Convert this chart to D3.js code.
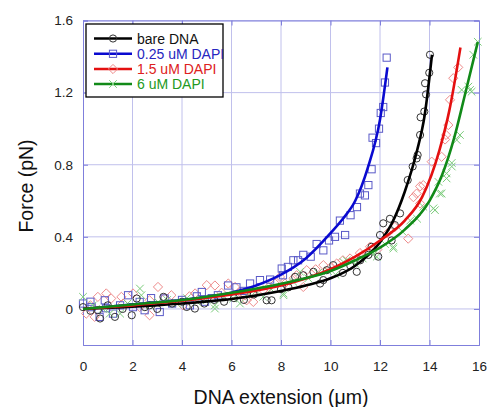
<!DOCTYPE html>
<html><head><meta charset="utf-8">
<script src="https://cdn.jsdelivr.net/npm/d3@7"></script>
<style>body{margin:0;background:#fff}svg{display:block}</style>
</head><body>
<svg id="c" width="488" height="407"></svg>
<script>
const xTicks=[0,2,4,6,8,10,12,14,16];
const yTicks=[0,0.4,0.8,1.2,1.6];
const seriesNames=["bare DNA","0.25 uM DAPI","1.5 uM DAPI","6 uM DAPI"];

const bareCurve=[[0,0],[2,0.012],[4,0.03],[6,0.055],[8,0.1],[9,0.13],[10,0.17],[11,0.24],[12,0.37],[12.5,0.48],[13,0.65],[13.5,0.88],[13.8,1.07],[14.1,1.41]];
const blueCurve=[[0,0],[2,0.025],[4,0.05],[6,0.09],[7,0.13],[8,0.19],[9,0.28],[10,0.42],[10.5,0.5],[11,0.6],[11.5,0.78],[12,1.05],[12.3,1.34]];
const redCurve=[[0,0],[2,0.02],[4,0.045],[6,0.08],[8,0.13],[10,0.22],[11,0.29],[12,0.38],[13,0.49],[13.7,0.62],[14.4,0.88],[14.8,1.1],[15.25,1.45]];
const greenCurve=[[0,0],[2,0.025],[4,0.05],[6,0.09],[8,0.14],[10,0.21],[11,0.27],[12,0.34],[13,0.44],[14,0.6],[14.5,0.74],[15,0.95],[15.4,1.17],[15.95,1.48]];

const bareData=[[0,0.01],[0.3,-0.01],[0.6,-0.007],[0.69,-0.053],[1.0,0.02],[1.29,-0.044],[1.6,0.0],[1.97,-0.035],[2.17,0.058],[2.5,0.01],[2.69,0.02],[3.0,0.0],[3.25,0.067],[3.6,0.03],[4.0,0.04],[4.19,0.011],[4.52,0.002],[4.9,0.03],[5.3,0.05],[5.7,0.04],[6.1,0.06],[6.5,0.05],[6.9,0.08],[7.42,0.048],[7.62,0.048],[8.0,0.11],[8.3,0.12],[8.57,0.178],[8.9,0.187],[9.31,0.206],[9.58,0.141],[9.71,0.16],[9.85,0.215],[10.11,0.243],[10.5,0.2],[10.8,0.24],[11.06,0.206],[11.2,0.27],[11.53,0.30],[11.66,0.345],[11.93,0.29],[12.0,0.41],[12.13,0.475],[12.4,0.50],[12.47,0.38],[12.6,0.465],[12.81,0.53],[13.12,0.715],[13.32,0.79],[13.48,0.835],[13.52,0.854],[13.62,0.965],[13.64,1.063],[13.79,1.095],[13.82,1.252],[13.86,1.19],[13.99,1.31],[14.02,1.41]];
const blueData=[[0,0.03],[0.3,0.04],[0.35,0.01],[0.67,-0.044],[0.88,0.048],[0.93,0.004],[1.21,-0.026],[1.5,0.02],[1.82,0.076],[2.02,0.01],[2.29,0.039],[2.49,-0.007],[2.75,0.06],[3.1,-0.017],[3.3,0.058],[3.6,0.03],[4.0,0.05],[4.32,0.02],[4.6,0.07],[4.8,0.094],[4.93,0.04],[5.2,0.06],[5.45,0.076],[5.86,0.13],[6.2,0.12],[6.5,0.1],[6.75,0.141],[7.15,0.16],[7.56,0.163],[8.03,0.224],[8.08,0.187],[8.28,0.233],[8.5,0.27],[8.69,0.27],[8.9,0.30],[9.2,0.29],[9.44,0.36],[9.71,0.325],[9.94,0.38],[10.18,0.40],[10.38,0.49],[10.59,0.41],[10.81,0.52],[11.07,0.565],[11.19,0.64],[11.39,0.63],[11.53,0.687],[11.66,0.775],[11.7,0.95],[11.84,0.92],[11.96,1.0],[12.03,1.087],[12.13,1.12],[12.2,1.256],[12.27,1.394]];
const redData=[[0.13,-0.026],[0.3,0.02],[0.47,-0.044],[0.6,0.067],[0.94,0.086],[1.14,0.058],[1.55,0.067],[1.62,0.03],[2.02,0.086],[2.29,0.011],[2.69,-0.035],[2.69,0.048],[3.03,0.122],[3.3,0.06],[3.57,0.076],[4.04,0.02],[4.3,0.07],[4.53,0.086],[5.0,0.132],[5.33,0.13],[5.6,0.09],[5.87,0.141],[6.14,0.122],[6.34,0.094],[6.55,0.076],[6.61,0.048],[6.82,0.086],[6.88,0.039],[7.28,0.104],[7.5,0.12],[7.76,0.141],[7.96,0.178],[8.16,0.141],[8.5,0.169],[8.63,0.187],[8.9,0.122],[9.04,0.215],[9.4,0.22],[9.71,0.243],[10.0,0.23],[10.25,0.252],[10.5,0.27],[10.79,0.28],[11.19,0.31],[11.6,0.345],[11.9,0.33],[12.3,0.42],[12.6,0.455],[13.14,0.39],[13.35,0.62],[13.48,0.64],[13.62,0.585],[13.62,0.68],[13.75,0.687],[14.09,0.817],[14.49,0.844],[14.63,0.94],[14.67,0.965],[14.76,1.02],[14.83,1.16],[14.96,1.28],[15.16,1.34]];
const greenData=[[0,0.067],[0.4,0.02],[0.8,0.0],[1.08,-0.026],[1.5,-0.026],[1.8,0.03],[2.3,0.113],[2.36,0.076],[2.7,0.02],[3.03,0.039],[3.4,0.05],[3.8,0.03],[4.2,0.06],[4.6,0.04],[5.0,0.05],[5.33,0.002],[5.33,0.02],[5.7,0.07],[6.07,0.058],[6.34,0.03],[6.7,0.09],[7.0,0.1],[7.28,0.067],[7.6,0.11],[8.1,0.076],[8.1,0.086],[8.5,0.15],[8.77,0.206],[9.1,0.17],[9.5,0.2],[9.9,0.21],[10.2,0.19],[10.52,0.26],[10.65,0.27],[11.0,0.25],[11.3,0.28],[11.73,0.30],[11.87,0.29],[12.2,0.36],[12.54,0.335],[12.54,0.345],[12.9,0.43],[13.22,0.49],[13.5,0.5],[13.75,0.567],[14.16,0.558],[14.22,0.548],[14.36,0.705],[14.42,0.64],[14.49,0.64],[14.69,0.724],[14.69,0.752],[14.9,0.79],[14.9,0.81],[15.1,0.937],[15.23,0.965],[15.3,1.215],[15.57,1.233],[15.64,1.215],[15.7,1.205],[15.77,1.41],[15.95,1.482]];

const svg=d3.select("#c");
const L=83,R=479,T=20.5,B=345;
const x=d3.scaleLinear().domain([0,16]).range([L,R]);
const y=d3.scaleLinear().domain([-0.2,1.6]).range([B,T]);
const font="Liberation Sans, Arial, sans-serif";

// grid
const g=svg.append("g");
g.selectAll(".gx").data(xTicks.slice(1,-1)).enter().append("line")
 .attr("x1",d=>x(d)).attr("x2",d=>x(d)).attr("y1",T).attr("y2",B)
 .attr("stroke","#c0c0ec").attr("stroke-width",1);
g.selectAll(".gy").data(yTicks).enter().append("line")
 .attr("y1",d=>y(d)).attr("y2",d=>y(d)).attr("x1",L).attr("x2",R)
 .attr("stroke","#c0c0ec").attr("stroke-width",1);

// axes
const axB=d3.axisBottom(x).tickValues(xTicks).tickSize(-5).tickPadding(16).tickFormat(d3.format("d"));
const axL=d3.axisLeft(y).tickValues(yTicks).tickSize(-5).tickPadding(10).tickFormat(d=>d===0?"0":d3.format(".1f")(d));
const axR=d3.axisRight(y).tickValues(yTicks).tickSize(-5).tickFormat("");
const axT=d3.axisTop(x).tickValues(xTicks).tickSize(-5).tickFormat("");
function style(sel){sel.select(".domain").attr("stroke","#7f7fdc");sel.selectAll(".tick line").attr("stroke","#7f7fdc");
 sel.selectAll("text").attr("font-family",font).attr("font-size",13.5).attr("fill","#222");}
svg.append("g").attr("transform",`translate(0,${B})`).call(axB).call(style);
svg.append("g").attr("transform",`translate(${L},0)`).call(axL).call(style);
svg.append("g").attr("transform",`translate(${R},0)`).call(axR).call(style);
svg.append("g").attr("transform",`translate(0,${T})`).call(axT).call(style);

const series=[
 {name:seriesNames[0],curve:bareCurve,data:bareData,line:"#000000",mark:"#333333",text:"#111111",sym:"circle"},
 {name:seriesNames[1],curve:blueCurve,data:blueData,line:"#0a0ad0",mark:"#5a5ac8",text:"#2626c0",sym:"square"},
 {name:seriesNames[2],curve:redCurve,data:redData,line:"#e41010",mark:"#ee8a8a",text:"#dd2020",sym:"diamond"},
 {name:seriesNames[3],curve:greenCurve,data:greenData,line:"#118a18",mark:"#7ccc7c",text:"#229922",sym:"x"}
];

function drawSym(sel,sym,color,px,py){
 if(sym==="circle") sel.append("circle").attr("cx",px).attr("cy",py).attr("r",3.6).attr("fill","none").attr("stroke",color).attr("stroke-width",1);
 else if(sym==="square") sel.append("rect").attr("x",px-3.6).attr("y",py-3.6).attr("width",7.2).attr("height",7.2).attr("fill","none").attr("stroke",color).attr("stroke-width",1);
 else if(sym==="diamond") sel.append("path").attr("d",`M${px},${py-4.6}L${px+4.6},${py}L${px},${py+4.6}L${px-4.6},${py}Z`).attr("fill","none").attr("stroke",color).attr("stroke-width",1);
 else sel.append("path").attr("d",`M${px-3.8},${py-3.8}L${px+3.8},${py+3.8}M${px-3.8},${py+3.8}L${px+3.8},${py-3.8}`).attr("fill","none").attr("stroke",color).attr("stroke-width",1);
}

const plot=svg.append("g");
[2,1,3,0].forEach(i=>{const s=series[i];const gg=plot.append("g");
 s.data.forEach(d=>drawSym(gg,s.sym,s.mark,x(d[0]),y(d[1])));});
const line=d3.line().x(d=>x(d[0])).y(d=>y(d[1])).curve(d3.curveMonotoneX);
[1,0,2,3].forEach(i=>{const s=series[i];
 plot.append("path").attr("d",line(s.curve)).attr("fill","none").attr("stroke",s.line).attr("stroke-width",2.6);});

// legend
const lg=svg.append("g");
lg.append("rect").attr("x",86).attr("y",24).attr("width",137).attr("height",73).attr("fill","#fff").attr("stroke","#000").attr("stroke-width",1.3);
const ly=[38.5,53.8,69,84];
series.forEach((s,i)=>{
 lg.append("line").attr("x1",94).attr("x2",132).attr("y1",ly[i]).attr("y2",ly[i]).attr("stroke",s.line).attr("stroke-width",2.4);
 drawSym(lg,s.sym,s.mark,113,ly[i]);
 lg.append("text").attr("x",137).attr("y",ly[i]+5).attr("font-family",font).attr("font-size",14).attr("fill",s.text).text(s.name);
});

// titles
svg.append("text").attr("x",281).attr("y",404).attr("text-anchor","middle").attr("font-family",font).attr("font-size",19.5).attr("fill","#111").text("DNA extension (\u03bcm)");
svg.append("text").attr("transform","translate(33,186) rotate(-90)").attr("text-anchor","middle").attr("font-family",font).attr("font-size",19.5).attr("fill","#111").text("Force (pN)");
</script>
</body></html>
